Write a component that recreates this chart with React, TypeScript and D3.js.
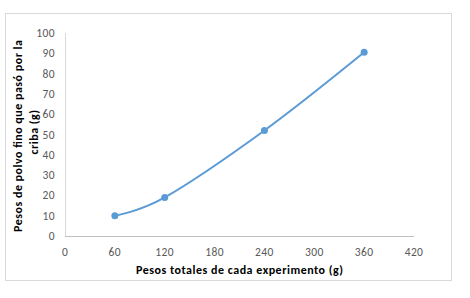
import React from "react";
import * as d3 from "d3";

const pesosTotales = [60, 120, 240, 360];
const pesosPolvo = [10, 19, 52, 90.5];
const xTicks = [0, 60, 120, 180, 240, 300, 360, 420];
const yTicks = [0, 10, 20, 30, 40, 50, 60, 70, 80, 90, 100];
const xTitle = "Pesos totales de cada experimento (g)";
const yTitle1 = "Pesos de polvo fino que pasó  por la";
const yTitle2 = "criba (g)";

export default function App() {
  const W = 470, H = 298;
  const x = d3.scaleLinear().domain([0, 420]).range([65, 414]);
  const y = d3.scaleLinear().domain([0, 100]).range([236, 33]);
  const pts = pesosTotales.map((v, i) => [v, pesosPolvo[i]] as [number, number]);
  const line = d3.line<[number, number]>()
    .x(d => x(d[0])).y(d => y(d[1]))
    .curve(d3.curveCardinal.tension(0));
  const font = "Carlito, 'Liberation Sans', Arial, sans-serif";
  return (
    <svg width={W} height={H} style={{ position: "absolute", left: 0, top: 0, background: "#fff" }}>
      <rect x={5.5} y={13.5} width={446} height={267} fill="#fff" stroke="#d9d9d9" />
      <line x1={x(0) + 0.5} x2={x(0) + 0.5} y1={y(100)} y2={y(0)} stroke="#d9d9d9" />
      <line x1={x(0)} x2={x(420)} y1={y(0) + 0.5} y2={y(0) + 0.5} stroke="#bfbfbf" />
      {yTicks.map(t => (
        <text key={t} x={55} y={y(t)} dy="0.35em" textAnchor="end" fontSize={11.5} letterSpacing={0.4} fill="#595959" fontFamily={font}>{t}</text>
      ))}
      {xTicks.map(t => (
        <text key={t} x={x(t)} y={252} dy="0.35em" textAnchor="middle" fontSize={11.5} letterSpacing={0.4} fill="#595959" fontFamily={font}>{t}</text>
      ))}
      <text x={239.5} y={270} dy="0.35em" textAnchor="middle" fontSize={12} fontWeight="bold" fill="#000" fontFamily={font} textLength={207} lengthAdjust="spacing">{xTitle}</text>
      <g transform="translate(18,136) rotate(-90)">
        <text x={0} y={0} dy="0.35em" textAnchor="middle" fontSize={12} fontWeight="bold" fill="#000" fontFamily={font} textLength={192} lengthAdjust="spacing">{yTitle1}</text>
      </g>
      <g transform="translate(34,132) rotate(-90)">
        <text x={0} y={0} dy="0.35em" textAnchor="middle" fontSize={12} fontWeight="bold" fill="#000" fontFamily={font} letterSpacing={0.5}>{yTitle2}</text>
      </g>
      <path d={line(pts) || ""} fill="none" stroke="#5b9bd5" strokeWidth={2} />
      {pts.map((p, i) => (
        <circle key={i} cx={x(p[0])} cy={y(p[1])} r={3.5} fill="#5b9bd5" />
      ))}
    </svg>
  );
}
